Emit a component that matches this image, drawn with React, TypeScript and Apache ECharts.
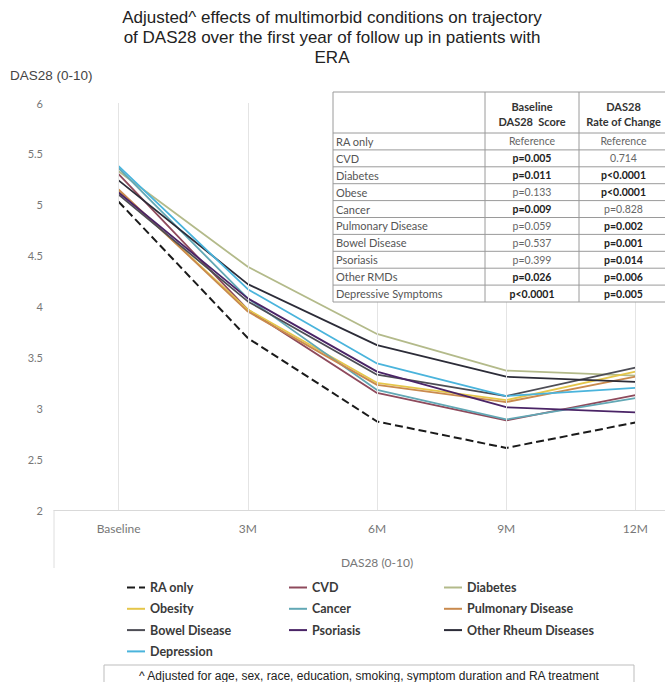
import React, { useEffect, useRef } from "react";
import * as echarts from "echarts";

// ---------- data ----------
const categories = ["Baseline", "3M", "6M", "9M", "12M"];
const yTicks = { min: 2, max: 6, interval: 0.5 };

const raOnly = [5.03, 3.69, 2.87, 2.61, 2.86];
const cvd = [5.3, 3.97, 3.15, 2.88, 3.13];
const diabetes = [5.33, 4.39, 3.73, 3.37, 3.32];
const obesity = [5.14, 3.97, 3.25, 3.08, 3.36];
const cancer = [5.36, 4.08, 3.18, 2.89, 3.1];
const pulmonary = [5.15, 3.95, 3.23, 3.06, 3.31];
const bowel = [5.1, 4.05, 3.33, 3.12, 3.4];
const psoriasis = [5.12, 4.08, 3.36, 3.01, 2.96];
const otherRheum = [5.24, 4.22, 3.62, 3.31, 3.26];
const depression = [5.38, 4.17, 3.44, 3.12, 3.2];

const seriesNames = [
  "RA only",
  "CVD",
  "Diabetes",
  "Obesity",
  "Cancer",
  "Pulmonary Disease",
  "Bowel Disease",
  "Psoriasis",
  "Other Rheum Diseases",
  "Depression",
];
const seriesValues = [raOnly, cvd, diabetes, obesity, cancer, pulmonary, bowel, psoriasis, otherRheum, depression];

const legendColumns = [
  ["RA only", "Obesity", "Bowel Disease", "Depression"],
  ["CVD", "Cancer", "Psoriasis"],
  ["Diabetes", "Pulmonary Disease", "Other Rheum Diseases"],
];

const tableRowLabels = [
  "RA only",
  "CVD",
  "Diabetes",
  "Obese",
  "Cancer",
  "Pulmonary Disease",
  "Bowel Disease",
  "Psoriasis",
  "Other RMDs",
  "Depressive Symptoms",
];
const baselineP = ["Reference", "p=0.005", "p=0.011", "p=0.133", "p=0.009", "p=0.059", "p=0.537", "p=0.399", "p=0.026", "p<0.0001"];
const baselineSig = [false, true, true, false, true, false, false, false, true, true];
const rateP = ["Reference", "0.714", "p<0.0001", "p<0.0001", "p=0.828", "p=0.002", "p=0.001", "p=0.014", "p=0.006", "p=0.005"];
const rateSig = [false, false, true, true, false, true, true, true, true, true];

const titleLines = [
  "Adjusted^ effects of multimorbid conditions on trajectory",
  "of DAS28 over the first year of follow up in patients with",
  "ERA",
];
const yAxisTitle = "DAS28 (0-10)";
const xAxisTitle = "DAS28 (0-10)";
const footnote = "^ Adjusted for age, sex, race, education, smoking, symptom duration and RA treatment";

// ---------- styles ----------
const seriesStyle: Record<string, { color: string; type?: string; width?: number }> = {
  "RA only": { color: "#1a1a1a", type: "dashed", width: 2 },
  CVD: { color: "#8e4a5c" },
  Diabetes: { color: "#b3ba8a" },
  Obesity: { color: "#e5c64a" },
  Cancer: { color: "#62a8b5" },
  "Pulmonary Disease": { color: "#c98a4e" },
  "Bowel Disease": { color: "#4d4d55" },
  Psoriasis: { color: "#4a2466" },
  "Other Rheum Diseases": { color: "#2c2c38" },
  Depression: { color: "#4ab4dc" },
};

const LATO = "Lato, 'Open Sans', sans-serif";
const ARIAL = "'Liberation Sans', Arial, sans-serif";

function buildTable() {
  const left = 333;
  const top = 92;
  const right = 668;
  const headerBottom = 133;
  const rowH = 16.9;
  const c1 = 485;
  const c2 = 579;
  const bottom = headerBottom + rowH * tableRowLabels.length;
  const els: any[] = [];
  const stroke = "#9a9a9a";
  els.push({
    type: "rect",
    shape: { x: left, y: top, width: right - left, height: bottom - top },
    style: { fill: "#fff", stroke, lineWidth: 1 },
  });
  for (let i = 0; i < tableRowLabels.length; i++) {
    const y = headerBottom + i * rowH;
    els.push({ type: "line", shape: { x1: left, y1: y, x2: right, y2: y }, style: { stroke, lineWidth: 1 } });
  }
  [c1, c2].forEach((x) =>
    els.push({ type: "line", shape: { x1: x, y1: top, x2: x, y2: bottom }, style: { stroke, lineWidth: 1 } })
  );
  const mid2 = (c1 + c2) / 2;
  const mid3 = (c2 + right) / 2;
  const hdr = (x: number, y: number, t: string) => ({
    type: "text",
    x,
    y,
    style: { text: t, fill: "#333", font: `bold 11px ${LATO}`, textAlign: "center", textVerticalAlign: "middle" },
  });
  els.push(hdr(mid2, 106, "Baseline"));
  els.push(hdr(mid2, 121, "DAS28  Score"));
  els.push(hdr(mid3, 106, "DAS28"));
  els.push(hdr(mid3, 121, "Rate of Change"));
  tableRowLabels.forEach((lab, i) => {
    const y = headerBottom + i * rowH + rowH / 2;
    els.push({
      type: "text",
      x: left + 3,
      y,
      style: { text: lab, fill: "#555", font: `11px ${LATO}`, textAlign: "left", textVerticalAlign: "middle" },
    });
    els.push({
      type: "text",
      x: mid2,
      y,
      style: {
        text: baselineP[i],
        fill: baselineSig[i] ? "#222" : "#666",
        font: `${baselineSig[i] ? "bold " : ""}10.5px ${LATO}`,
        textAlign: "center",
        textVerticalAlign: "middle",
      },
    });
    els.push({
      type: "text",
      x: mid3,
      y,
      style: {
        text: rateP[i],
        fill: rateSig[i] ? "#222" : "#666",
        font: `${rateSig[i] ? "bold " : ""}10.5px ${LATO}`,
        textAlign: "center",
        textVerticalAlign: "middle",
      },
    });
  });
  return els;
}

export default function App() {
  const ref = useRef<HTMLDivElement>(null);
  useEffect(() => {
    if (!ref.current) return;
    const chart = echarts.init(ref.current, undefined, { renderer: "svg" });

    const series: any[] = seriesNames.map((name, i) => {
      const st = seriesStyle[name];
      return {
        name,
        type: "line",
        data: seriesValues[i],
        symbol: "none",
        showSymbol: false,
        z: 3,
        lineStyle: { color: st.color, width: st.width ?? 1.8, type: st.type ?? "solid" },
        itemStyle: { color: st.color },
      };
    });
    // vertical gridlines at category centres
    series.unshift({
      name: "__grid",
      type: "line",
      data: raOnly,
      symbol: "none",
      z: 1,
      silent: true,
      lineStyle: { opacity: 0 },
      markLine: {
        silent: true,
        symbol: ["none", "none"],
        label: { show: false },
        lineStyle: { color: "#e4e4e4", width: 1, type: "solid" },
        data: categories.map((c) => ({ xAxis: c })),
      },
    });

    const legends = legendColumns.map((col, i) => ({
      orient: "vertical",
      left: [121, 283, 438][i],
      top: 576,
      data: col,
      itemWidth: 18,
      itemHeight: 14,
      itemGap: 8.3,
      selectedMode: false,
      itemStyle: { opacity: 0 },
      lineStyle: { width: 2 },
      textStyle: { fontFamily: LATO, fontWeight: "bold", fontSize: 12.5, color: "#3a3a3a" },
    }));

    const graphics: any[] = [
      {
        type: "text",
        x: 332,
        y: 7,
        style: {
          text: titleLines.join("\n"),
          font: `17px ${ARIAL}`,
          lineHeight: 20,
          fill: "#222",
          textAlign: "center",
          textVerticalAlign: "top",
        },
      },
      {
        type: "text",
        x: 10,
        y: 75,
        style: { text: yAxisTitle, font: `13.5px ${ARIAL}`, fill: "#444", textAlign: "left", textVerticalAlign: "middle" },
      },
      { type: "line", shape: { x1: 54, y1: 510, x2: 54, y2: 568 }, style: { stroke: "#dedede", lineWidth: 1 } },
      {
        type: "rect",
        shape: { x: 104, y: 665, width: 530, height: 40 },
        style: { fill: "none", stroke: "#bdbdbd", lineWidth: 1 },
      },
      {
        type: "text",
        x: 369,
        y: 676,
        style: { text: footnote, font: `12px ${ARIAL}`, fill: "#222", textAlign: "center", textVerticalAlign: "middle" },
      },
      ...buildTable().map((e) => ({ ...e, z: 10 })),
    ];

    chart.setOption({
      animation: false,
      backgroundColor: "#fff",
      grid: { left: 54, right: 5, top: 103, bottom: 172, containLabel: false },
      xAxis: {
        type: "category",
        data: categories,
        boundaryGap: true,
        axisLine: { lineStyle: { color: "#d9d9d9", width: 1 } },
        axisTick: { show: false },
        splitLine: { show: false },
        axisLabel: { color: "#777", fontSize: 12, fontFamily: LATO, margin: 12 },
        name: xAxisTitle,
        nameLocation: "middle",
        nameGap: 46,
        nameTextStyle: { color: "#777", fontSize: 12, fontFamily: LATO },
      },
      yAxis: {
        type: "value",
        min: yTicks.min,
        max: yTicks.max,
        interval: yTicks.interval,
        axisLine: { show: false },
        axisTick: { show: false },
        splitLine: { show: false },
        axisLabel: { color: "#777", fontSize: 11, fontFamily: LATO, margin: 11 },
      },
      legend: legends,
      series,
      graphic: graphics,
    });
    return () => chart.dispose();
  }, []);
  return (
    <div
      ref={ref}
      style={{ position: "fixed", left: 0, top: 0, width: 705, height: 682, background: "#fff" }}
    />
  );
}
